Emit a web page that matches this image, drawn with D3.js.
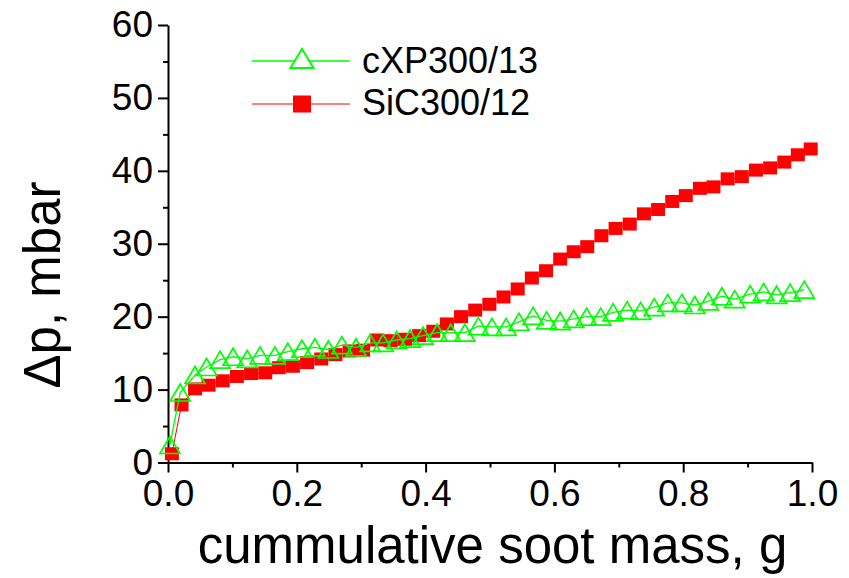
<!DOCTYPE html>
<html>
<head>
<meta charset="utf-8">
<script src="https://cdn.jsdelivr.net/npm/d3@7"></script>
<style>
  body { margin: 0; background: #fff; }
  text { font-family: "Liberation Sans", Arial, sans-serif; fill: #000; }
</style>
</head>
<body>
<div id="chart"></div>
<script>
// SiC300/12 (red squares)
const sicX = [0.006, 0.021, 0.042, 0.063, 0.085, 0.107, 0.129, 0.151, 0.172, 0.194, 0.216, 0.238, 0.260, 0.282, 0.303, 0.325, 0.346, 0.368, 0.390, 0.412, 0.433, 0.455, 0.477, 0.499, 0.521, 0.543, 0.565, 0.587, 0.609, 0.630, 0.651, 0.673, 0.695, 0.717, 0.739, 0.761, 0.783, 0.804, 0.826, 0.847, 0.869, 0.891, 0.913, 0.935, 0.957, 0.978, 0.998]
const sicY = [1.2, 7.9, 10.1, 10.6, 11.2, 11.8, 12.2, 12.3, 13.0, 13.2, 13.7, 14.2, 14.8, 15.3, 15.4, 16.8, 16.7, 16.9, 17.4, 18.0, 19.0, 20.0, 20.9, 21.7, 22.7, 23.8, 25.3, 26.3, 27.9, 28.9, 29.6, 31.1, 32.1, 32.7, 34.1, 34.7, 35.8, 36.6, 37.6, 37.8, 38.9, 39.2, 40.1, 40.4, 41.2, 42.2, 43.0]

// cXP300/13 (green open triangles)
const cxpX = [0.003, 0.019, 0.042, 0.060, 0.081, 0.101, 0.123, 0.143, 0.166, 0.186, 0.208, 0.228, 0.249, 0.270, 0.292, 0.314, 0.334, 0.355, 0.376, 0.396, 0.418, 0.439, 0.461, 0.482, 0.503, 0.525, 0.545, 0.567, 0.588, 0.609, 0.630, 0.650, 0.672, 0.691, 0.713, 0.734, 0.755, 0.776, 0.798, 0.818, 0.839, 0.860, 0.880, 0.904, 0.925, 0.945, 0.966, 0.988]
const cxpY = [2.4, 9.6, 12.0, 13.1, 14.1, 14.5, 14.2, 14.7, 14.7, 15.2, 15.6, 15.8, 15.5, 16.1, 15.8, 16.4, 16.4, 16.8, 17.0, 17.4, 17.8, 17.8, 17.8, 18.7, 18.6, 18.6, 19.3, 20.1, 19.5, 19.4, 19.7, 20.0, 20.0, 20.6, 20.9, 20.8, 21.3, 21.9, 21.9, 21.6, 22.1, 22.8, 22.4, 23.1, 23.4, 23.0, 23.3, 23.7]

const xMajor = [0, 0.2, 0.4, 0.6, 0.8, 1.0]
const xMinor = [0.1, 0.3, 0.5, 0.7, 0.9]
const yMajor = [0, 10, 20, 30, 40, 50, 60]
const yMinor = [5, 15, 25, 35, 45, 55]

const seriesNames = ["cXP300/13", "SiC300/12"]
const green = "#00ff00"
const red = "#ff0000"

const width = 849, height = 578

const svg = d3.select("#chart").append("svg")
	.attr("width", width)
	.attr("height", height)

const x = d3.scaleLinear().domain([0, 1]).range([168, 812])
const y = d3.scaleLinear().domain([0, 60]).range([462.5, 25])

// axes
const xAxis = svg.append("g")
	.attr("transform", "translate(0," + y(0) + ")")
	.call(d3.axisBottom(x).tickValues(xMajor).tickSize(10).tickSizeOuter(0)
		.tickFormat(d3.format(".1f")))
svg.append("g")
	.attr("transform", "translate(0," + y(0) + ")")
	.call(d3.axisBottom(x).tickValues(xMinor).tickSize(5).tickFormat(""))
	.select(".domain").remove()

const yAxis = svg.append("g")
	.attr("transform", "translate(" + x(0) + ",0)")
	.call(d3.axisLeft(y).tickValues(yMajor).tickSize(10).tickSizeOuter(0))
svg.append("g")
	.attr("transform", "translate(" + x(0) + ",0)")
	.call(d3.axisLeft(y).tickValues(yMinor).tickSize(5).tickFormat(""))
	.select(".domain").remove()

svg.selectAll(".domain").attr("stroke", "#000").attr("stroke-width", 2)
svg.selectAll(".tick line").attr("stroke", "#000").attr("stroke-width", 2)

xAxis.selectAll(".tick text")
	.attr("font-size", 37)
	.attr("font-family", "Liberation Sans, Arial, sans-serif")
	.attr("y", 17)
	.attr("dy", "0.72em")
yAxis.selectAll(".tick text")
	.attr("font-size", 37)
	.attr("font-family", "Liberation Sans, Arial, sans-serif")
	.attr("x", -15)
	.attr("dy", "0.32em")

// axis titles
svg.append("text")
	.attr("x", (198 + 787) / 2)
	.attr("y", 563)
	.attr("text-anchor", "middle")
	.attr("font-size", 51)
	.text("cummulative soot mass, g")

svg.append("text")
	.attr("transform", "translate(60,285) rotate(-90)")
	.attr("text-anchor", "middle")
	.attr("font-size", 51)
	.text("\u0394p, mbar")

const tri = "M0,-8.5L10,8.5L-10,8.5Z"
const line = d3.line().x(d => x(d[0])).y(d => y(d[1]))

// SiC300/12
const sicData = sicX.map((v, i) => [v, sicY[i]])
svg.append("path")
	.datum(sicData)
	.attr("d", line)
	.attr("fill", "none")
	.attr("stroke", red)
	.attr("stroke-width", 1)
svg.append("g").selectAll("rect")
	.data(sicData)
	.join("rect")
	.attr("x", d => x(d[0]) - 7)
	.attr("y", d => y(d[1]) - 6.5)
	.attr("width", 14)
	.attr("height", 13)
	.attr("fill", red)

// cXP300/13
const cxpData = cxpX.map((v, i) => [v, cxpY[i]])
svg.append("path")
	.datum(cxpData)
	.attr("d", line)
	.attr("fill", "none")
	.attr("stroke", green)
	.attr("stroke-width", 1.3)
svg.append("g").selectAll("path")
	.data(cxpData)
	.join("path")
	.attr("d", tri)
	.attr("transform", d => "translate(" + x(d[0]) + "," + y(d[1]) + ")")
	.attr("fill", "none")
	.attr("stroke", green)
	.attr("stroke-width", 1.7)

// legend
const legend = svg.append("g")
const legY = [61, 104]
legend.append("line")
	.attr("x1", 252).attr("x2", 350).attr("y1", legY[0]).attr("y2", legY[0])
	.attr("stroke", green).attr("stroke-width", 1.3)
legend.append("path")
	.attr("d", "M0,-10L11.5,9L-11.5,9Z")
	.attr("transform", "translate(302," + (legY[0] - 2) + ")")
	.attr("fill", "#fff")
	.attr("stroke", green)
	.attr("stroke-width", 2)
legend.append("line")
	.attr("x1", 252).attr("x2", 350).attr("y1", legY[1]).attr("y2", legY[1])
	.attr("stroke", red).attr("stroke-width", 1)
legend.append("rect")
	.attr("x", 302 - 9).attr("y", legY[1] - 8.5)
	.attr("width", 18).attr("height", 17)
	.attr("fill", red)
legend.selectAll("text.leg")
	.data(seriesNames)
	.join("text")
	.attr("class", "leg")
	.attr("x", 362)
	.attr("y", (d, i) => [73, 115][i])
	.attr("font-size", 36)
	.text(d => d)
</script>
</body>
</html>
